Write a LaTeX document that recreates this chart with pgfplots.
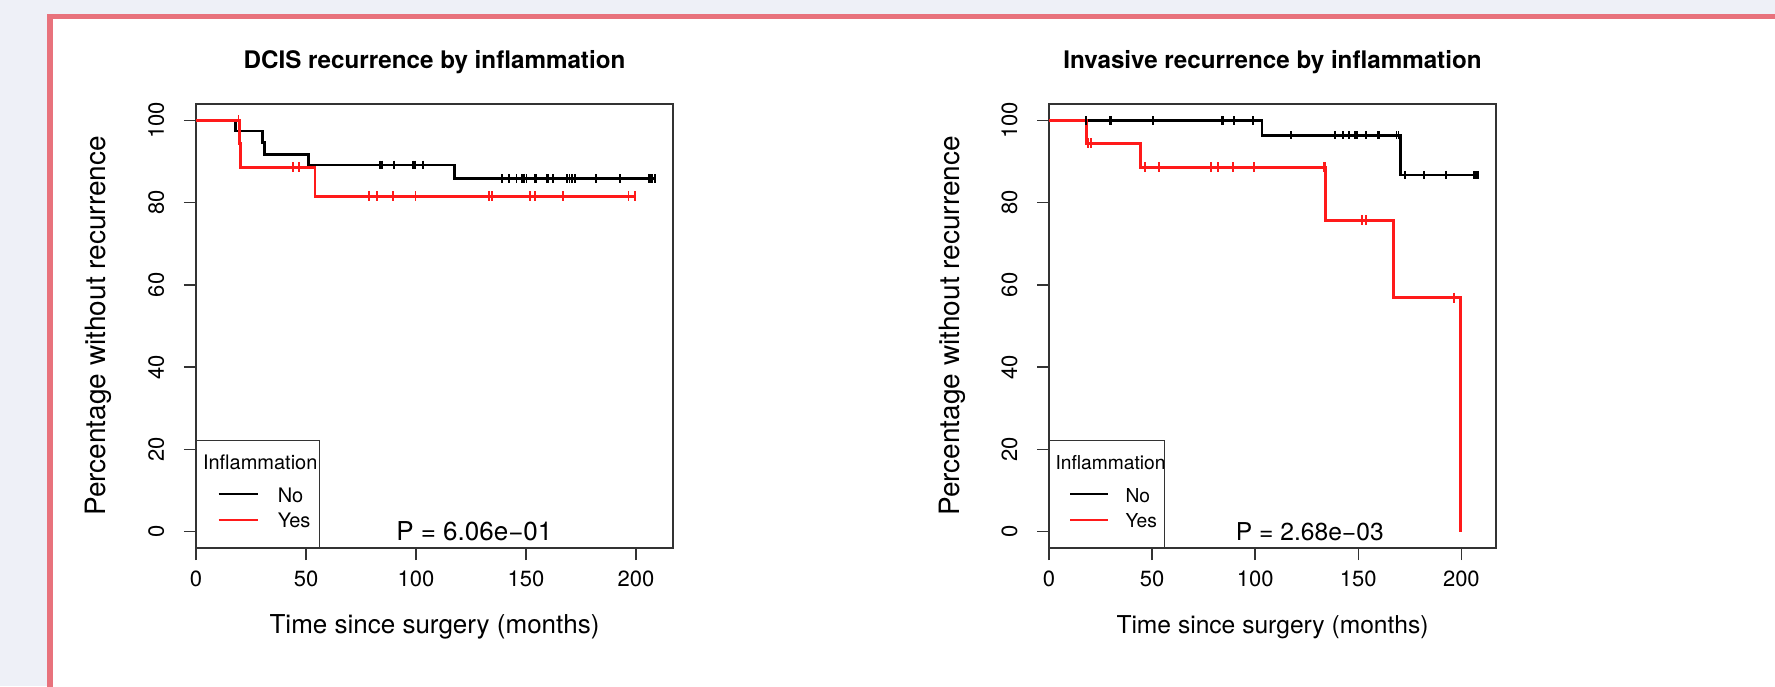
\documentclass[border=0pt]{standalone}
\usepackage{pgfplots}
\pgfplotsset{compat=1.18}
\usepackage{fontspec}
\setmainfont{TeX Gyre Heros}

\definecolor{pagebg}{HTML}{EEF0F7}
\definecolor{framered}{HTML}{E8727C}
\definecolor{kmred}{HTML}{FF1A1A}

\pgfplotsset{
  km/.style={
    scale only axis, height=222pt,
    xmin=0, xmax=216.8, ymin=-4, ymax=104,
    xtick={0,50,100,150,200}, ytick={0,20,40,60,80,100},
    tick align=outside, tick pos=left, major tick length=6pt,
    axis line style={black!80, line width=0.7pt},
    every tick/.style={black!80, line width=0.7pt},
    /pgf/number format/assume math mode=true,
    ticklabel style={font=\fontsize{11}{13}\selectfont},
    xticklabel style={anchor=base, yshift=-13pt},
    yticklabel style={xshift=-10pt, rotate=90, anchor=base},
    every axis title/.style={at={(0.5,1.081)}, anchor=base,
      font=\bfseries\fontsize{12.1}{14}\selectfont},
    every axis x label/.style={at={(0.5,0)}, anchor=base, yshift=-42.5pt},
    every axis y label/.style={rotate=90, anchor=base,
      font=\fontsize{14}{16}\selectfont},
    xlabel={Time since surgery (months)},
    ylabel={Percentage without recurrence},
  },
  surv/.style={const plot, line width=1.3pt, mark=none},
  cens/.style={only marks, mark=|, mark size=2.1pt, mark options={line width=0.9pt}},
}

% legend in the lower left corner: #1 box width, #2 title x, #3 line start,
% #4 line end, #5 entry text x, #6 font size
\newcommand{\kmlegend}[6]{%
  \draw[black!80, line width=0.6pt, fill=white]
    (rel axis cs:0,0) rectangle ([shift={(#1,53.6pt)}]rel axis cs:0,0);
  \node[anchor=west, inner sep=0pt, font=\fontsize{#6}{12}\selectfont]
    at ([shift={(#2,42.8pt)}]rel axis cs:0,0) {Inflammation};
  \draw[black, line width=1pt] ([shift={(#3,26.8pt)}]rel axis cs:0,0) -- ([shift={(#4,26.8pt)}]rel axis cs:0,0);
  \draw[kmred, line width=1pt] ([shift={(#3,14pt)}]rel axis cs:0,0) -- ([shift={(#4,14pt)}]rel axis cs:0,0);
  \node[anchor=west, inner sep=0pt, font=\fontsize{#6}{12}\selectfont]
    at ([shift={(#5,26.1pt)}]rel axis cs:0,0) {No};
  \node[anchor=west, inner sep=0pt, font=\fontsize{#6}{12}\selectfont]
    at ([shift={(#5,13.6pt)}]rel axis cs:0,0) {Yes};
}

\begin{document}
\begin{tikzpicture}
\path[use as bounding box] (0,0) rectangle (887.5pt,343pt);
\begin{scope}
  \clip (0,0) rectangle (887.5pt,343pt);
  \fill[pagebg] (0,0) rectangle (887.5pt,343pt);
  \fill[white] (25pt,-5pt) rectangle (900pt,334.75pt);
  \draw[framered, line width=2.8pt] (25pt,-5pt) -- (25pt,334.75pt) -- (900pt,334.75pt);
\end{scope}

% ---------- DCIS ----------
\begin{axis}[km, at={(98pt,69pt)}, anchor=south west, width=238.5pt,
  title={DCIS recurrence by inflammation},
  xlabel style={font=\fontsize{13}{15}\selectfont},
  ylabel style={at={(-0.1887,0.5)}}]
\addplot[surv, black] coordinates {
  (0,100) (17.9,97.4) (30.3,94.6) (31.0,91.7) (51.0,89.2) (117.5,85.9) (208.6,85.9)};
\addplot[cens, black] coordinates {
  (83.7,89.2) (84.6,89.2) (90.1,89.2) (98.8,89.2) (99.4,89.2) (103.3,89.2)
  (139.0,85.9) (142.4,85.9) (145.7,85.9) (148.0,85.9) (149.2,85.9) (150.2,85.9)
  (154.1,85.9) (154.4,85.9) (159.3,85.9) (159.9,85.9) (162.3,85.9) (168.8,85.9)
  (169.8,85.9) (170.9,85.9) (172.3,85.9) (181.8,85.9) (192.7,85.9) (206.0,85.9)
  (206.8,85.9) (207.5,85.9) (208.6,85.9)};
\addplot[surv, kmred] coordinates {
  (0,100) (19.9,94.4) (20.3,88.6) (54.0,81.5) (199.7,81.5)};
\addplot[cens, kmred, mark size=2.5pt] coordinates {
  (19.3,100) (44.2,88.6) (46.8,88.6)
  (78.6,81.5) (82.4,81.5) (89.7,81.5) (99.8,81.5) (133.2,81.5) (134.5,81.5)
  (151.9,81.5) (154.1,81.5) (166.8,81.5) (196.6,81.5) (199.7,81.5)};
\kmlegend{61.6pt}{3.3pt}{11.3pt}{31.2pt}{40.7pt}{10}
\node[font=\fontsize{13}{15}\selectfont] at (axis cs:126.5,0) {P = 6.06e−01};
\end{axis}

% ---------- Invasive ----------
\begin{axis}[km, at={(524.5pt,69pt)}, anchor=south west, width=223.5pt,
  title={Invasive recurrence by inflammation},
  xlabel style={font=\fontsize{12.3}{15}\selectfont},
  ylabel style={at={(-0.2013,0.5)}}]
\addplot[surv, black] coordinates {
  (0,100) (103.3,96.4) (170.6,86.7) (208.0,86.7)};
\addplot[cens, black] coordinates {
  (18.0,100) (29.5,100) (30.3,100) (50.5,100) (83.7,100) (84.5,100) (89.9,100) (98.8,100)
  (117.2,96.4) (138.7,96.4) (142.4,96.4) (145.5,96.4) (148.3,96.4) (149.5,96.4)
  (153.8,96.4) (159.4,96.4) (160.2,96.4) (168.5,96.4) (169.5,96.4)
  (172.5,86.7) (181.7,86.7) (192.6,86.7) (206.1,86.7) (206.9,86.7) (208.0,86.7)};
\addplot[surv, kmred] coordinates {
  (0,100) (18.3,94.4) (44.3,88.6) (134.2,75.7) (167.1,56.9) (199.7,0)};
\addplot[cens, kmred, mark size=2.5pt] coordinates {
  (19.1,94.4) (20.4,94.4)
  (46.7,88.6) (53.4,88.6) (78.6,88.6) (82.1,88.6) (89.4,88.6) (99.6,88.6)
  (133.3,88.6) (133.9,88.6)
  (151.9,75.7) (153.8,75.7) (196.6,56.9)};
\kmlegend{57.7pt}{3.1pt}{10.6pt}{29.3pt}{38.1pt}{9.6}
\node[font=\fontsize{12.3}{15}\selectfont] at (axis cs:126.5,0) {P = 2.68e−03};
\end{axis}
\end{tikzpicture}
\end{document}
